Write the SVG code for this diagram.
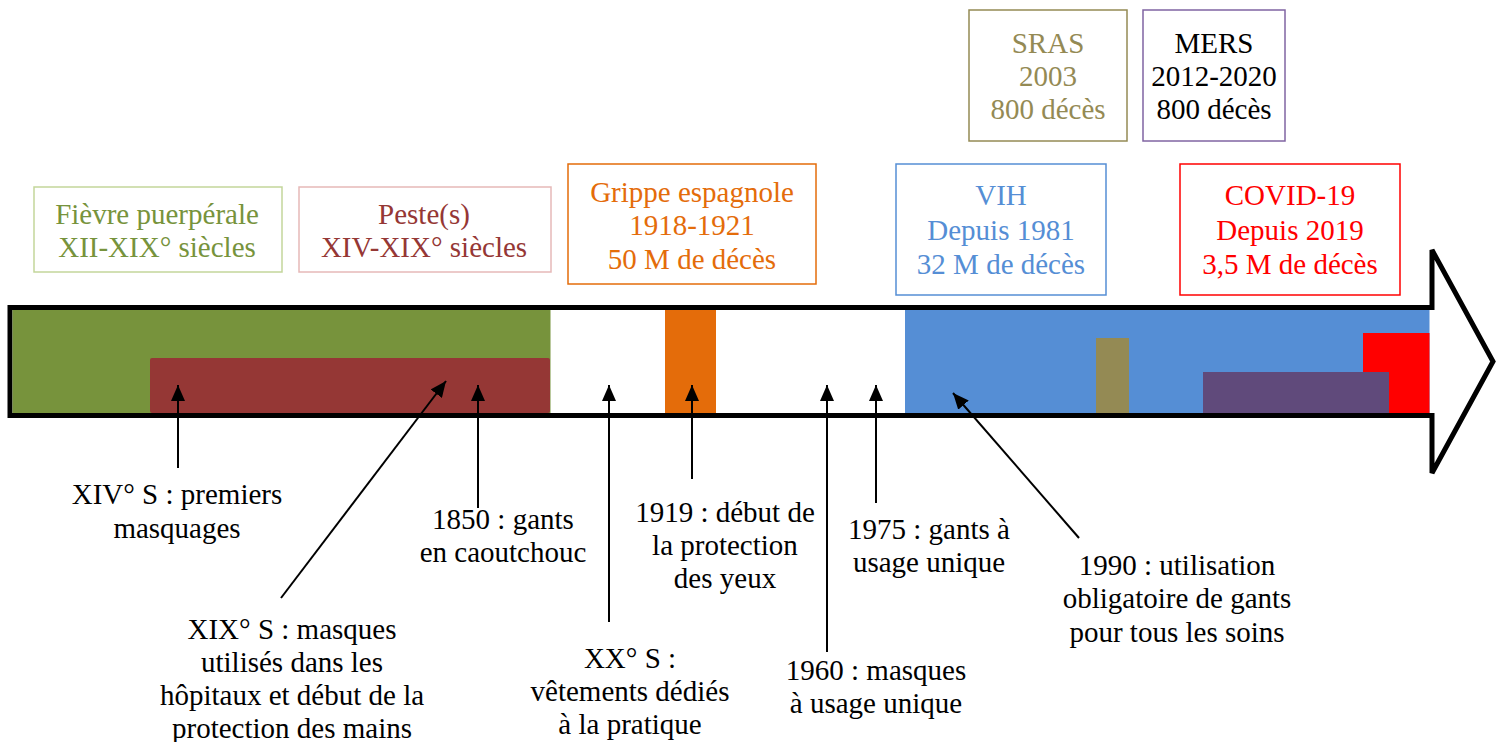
<svg xmlns="http://www.w3.org/2000/svg" width="1499" height="742" viewBox="0 0 1499 742" font-family="'Liberation Serif', 'Times New Roman', 'DejaVu Serif', serif">
<defs>
<style>
text{font-family:'Liberation Serif','Times New Roman','DejaVu Serif',serif;font-size:29px;text-anchor:middle}
.box{fill:#fff;stroke-width:1.5}
.lbl{fill:#000}
.conn line{stroke:#000;stroke-width:2}
</style>
<marker id="ah2" viewBox="0 0 16 14" refX="16" refY="7" markerWidth="16" markerHeight="14" markerUnits="userSpaceOnUse" orient="auto">
<path d="M0,0 L16,7 L0,14 Z" fill="#000"/>
</marker>
</defs>
<rect width="1499" height="742" fill="#fff"/>
<g id="timeline">
<polygon points="10,307.5 1432,307.5 1432,250 1493,361.5 1432,473 1432,415.5 10,415.5" fill="#fff" stroke="#000" stroke-width="5"/>
<rect x="12.5" y="310" width="538" height="103" fill="#77933c"/>
<rect x="150" y="358" width="400" height="55" rx="2" fill="#953735"/>
<rect x="665" y="310" width="51" height="103" fill="#e46c0a"/>
<rect x="905" y="310" width="524.5" height="103" fill="#558ed5"/>
<rect x="1096" y="338" width="33" height="75" fill="#948a54"/>
<rect x="1363" y="333" width="66.5" height="80" fill="#ff0000"/>
<rect x="1203" y="372" width="186" height="41" fill="#604a7b"/>
</g>
<g id="fievre">
<rect class="box" x="34" y="187" width="248" height="85" stroke="#c3d69b"/>
<text fill="#77933c"><tspan x="157" y="224">Fièvre puerpérale</tspan><tspan x="157" y="257">XII-XIX° siècles</tspan></text>
</g>
<g id="peste">
<rect class="box" x="299" y="187" width="252" height="85" stroke="#e6b9b8"/>
<text fill="#953735"><tspan x="424" y="224">Peste(s)</tspan><tspan x="424" y="257">XIV-XIX° siècles</tspan></text>
</g>
<g id="grippe">
<rect class="box" x="568" y="164" width="248" height="120" stroke="#e46c0a"/>
<text fill="#e46c0a"><tspan x="692" y="202">Grippe espagnole</tspan><tspan x="692" y="235">1918-1921</tspan><tspan x="692" y="269">50 M de décès</tspan></text>
</g>
<g id="vih">
<rect class="box" x="896" y="164" width="210" height="131" stroke="#558ed5"/>
<text fill="#558ed5"><tspan x="1001" y="205">VIH</tspan><tspan x="1001" y="240">Depuis 1981</tspan><tspan x="1001" y="274">32 M de décès</tspan></text>
</g>
<g id="covid">
<rect class="box" x="1180" y="164" width="220" height="131" stroke="#ff0000"/>
<text fill="#ff0000"><tspan x="1290" y="205">COVID-19</tspan><tspan x="1290" y="240">Depuis 2019</tspan><tspan x="1290" y="274">3,5 M de décès</tspan></text>
</g>
<g id="sras">
<rect class="box" x="969" y="10" width="158" height="131" stroke="#948a54"/>
<text fill="#948a54"><tspan x="1048" y="53">SRAS</tspan><tspan x="1048" y="86">2003</tspan><tspan x="1048" y="119">800 décès</tspan></text>
</g>
<g id="mers">
<rect class="box" x="1143" y="10" width="142" height="131" stroke="#8064a2"/>
<text fill="#000"><tspan x="1214" y="53">MERS</tspan><tspan x="1214" y="86">2012-2020</tspan><tspan x="1214" y="119">800 décès</tspan></text>
</g>
<g id="connectors" class="conn">
<line x1="178" y1="468" x2="178" y2="385" marker-end="url(#ah2)"/>
<line x1="281" y1="598" x2="446" y2="381" marker-end="url(#ah2)"/>
<line x1="478" y1="508" x2="478" y2="385" marker-end="url(#ah2)"/>
<line x1="609" y1="622" x2="609" y2="385" marker-end="url(#ah2)"/>
<line x1="692" y1="479" x2="692" y2="385" marker-end="url(#ah2)"/>
<line x1="827" y1="652" x2="827" y2="385" marker-end="url(#ah2)"/>
<line x1="876" y1="503" x2="876" y2="385" marker-end="url(#ah2)"/>
<line x1="1079" y1="538" x2="953" y2="393" marker-end="url(#ah2)"/>
</g>
<g id="n-xiv">
<text class="lbl"><tspan x="177" y="504">XIV° S : premiers</tspan><tspan x="177" y="538">masquages</tspan></text>
</g>
<g id="n-xix">
<text class="lbl"><tspan x="292" y="639">XIX° S : masques</tspan><tspan x="292" y="672">utilisés dans les</tspan><tspan x="292" y="705">hôpitaux et début de la</tspan><tspan x="292" y="738">protection des mains</tspan></text>
</g>
<g id="n-1850">
<text class="lbl"><tspan x="503" y="529">1850 : gants</tspan><tspan x="503" y="562">en caoutchouc</tspan></text>
</g>
<g id="n-xx">
<text class="lbl"><tspan x="630" y="668">XX° S :</tspan><tspan x="630" y="701">vêtements dédiés</tspan><tspan x="630" y="734">à la pratique</tspan></text>
</g>
<g id="n-1919">
<text class="lbl"><tspan x="725" y="522">1919 : début de</tspan><tspan x="725" y="555">la protection</tspan><tspan x="725" y="588">des yeux</tspan></text>
</g>
<g id="n-1960">
<text class="lbl"><tspan x="876" y="680">1960 : masques</tspan><tspan x="876" y="713">à usage unique</tspan></text>
</g>
<g id="n-1975">
<text class="lbl"><tspan x="929" y="539">1975 : gants à</tspan><tspan x="929" y="572">usage unique</tspan></text>
</g>
<g id="n-1990">
<text class="lbl"><tspan x="1177" y="575">1990 : utilisation</tspan><tspan x="1177" y="608">obligatoire de gants</tspan><tspan x="1177" y="642">pour tous les soins</tspan></text>
</g>
</svg>
